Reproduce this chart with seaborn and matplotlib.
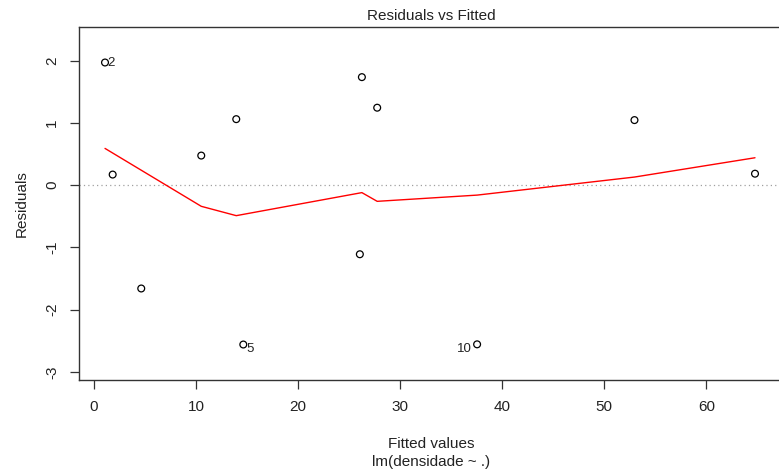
import matplotlib
matplotlib.use("Agg")
import matplotlib.pyplot as plt
import seaborn as sns
import pandas as pd

# Fitted values and residuals of lm(densidade ~ .)
fitted = [1.08, 1.83, 4.63, 10.51, 13.94, 14.63, 26.05, 26.25, 27.75, 37.54, 52.96, 64.77]
residuals = [1.97, 0.17, -1.66, 0.475, 1.06, -2.56, -1.11, 1.735, 1.244, -2.557, 1.045, 0.184]
obs_id = [2, 3, 4, 1, 6, 5, 7, 8, 9, 10, 11, 12]

# Smoothed trend of the residuals
smooth_x = [1.08, 10.51, 13.94, 26.25, 27.75, 37.54, 52.96, 64.77]
smooth_y = [0.59, -0.34, -0.49, -0.12, -0.26, -0.16, 0.13, 0.44]

# Observations flagged with their index
flagged = [2, 5, 10]

x_ticks = [0, 10, 20, 30, 40, 50, 60]
y_ticks = [-3, -2, -1, 0, 1, 2]

df = pd.DataFrame({"fitted": fitted, "residuals": residuals, "id": obs_id})
smooth = pd.DataFrame({"x": smooth_x, "y": smooth_y})

sns.set_theme(style="white")
plt.rcParams["font.family"] = ["Liberation Sans", "DejaVu Sans"]

fig = plt.figure(figsize=(7.79, 4.74), dpi=100)
ax = fig.add_axes([0.1014, 0.1983, 0.9012, 0.7447])

ax.axhline(0, color="#a0a0a0", linestyle=(0, (1, 2.5)), linewidth=0.9, zorder=1)

sns.lineplot(data=smooth, x="x", y="y", color="red", linewidth=1.0,
             ax=ax, sort=False, zorder=2)
sns.scatterplot(data=df, x="fitted", y="residuals", marker="o", s=24,
                facecolor="none", edgecolor="black", linewidth=0.9,
                ax=ax, zorder=3)

label_offsets = {2: ((2, -0.5), "left"), 5: ((2.5, -3), "left"), 10: ((-4, -3), "right")}
for _, row in df.iterrows():
    i = int(row["id"])
    if i in flagged:
        offset, ha = label_offsets[i]
        ax.annotate(str(i), (row["fitted"], row["residuals"]),
                    xytext=offset, textcoords="offset points",
                    ha=ha, va="center", fontsize=9.5, color="#222222")

ax.set_xlim(-1.47, 67.32)
ax.set_ylim(-3.13, 2.54)
ax.set_xticks(x_ticks)
ax.set_yticks(y_ticks)
ax.set_yticklabels([str(v) for v in y_ticks], rotation=90, va="center")
ax.tick_params(axis="both", direction="out", length=6.3, width=0.9,
               color="#333333", labelsize=11, labelcolor="#222222", pad=8,
               bottom=True, left=True)

for sp in ax.spines.values():
    sp.set_visible(True)
    sp.set_color("#333333")
    sp.set_linewidth(1.0)

ax.set_xlabel("")
ax.set_ylabel("Residuals", fontsize=11, color="#222222", labelpad=12)
fig.text(0.5536, 0.064, "Fitted values", ha="center", va="center",
         fontsize=11, color="#222222")
fig.text(0.5536, 0.025, "lm(densidade ~ .)", ha="center", va="center",
         fontsize=11, color="#222222")
fig.text(0.5536, 0.967, "Residuals vs Fitted", ha="center", va="center",
         fontsize=11, color="#222222")

fig.savefig("out.png", dpi=100)
